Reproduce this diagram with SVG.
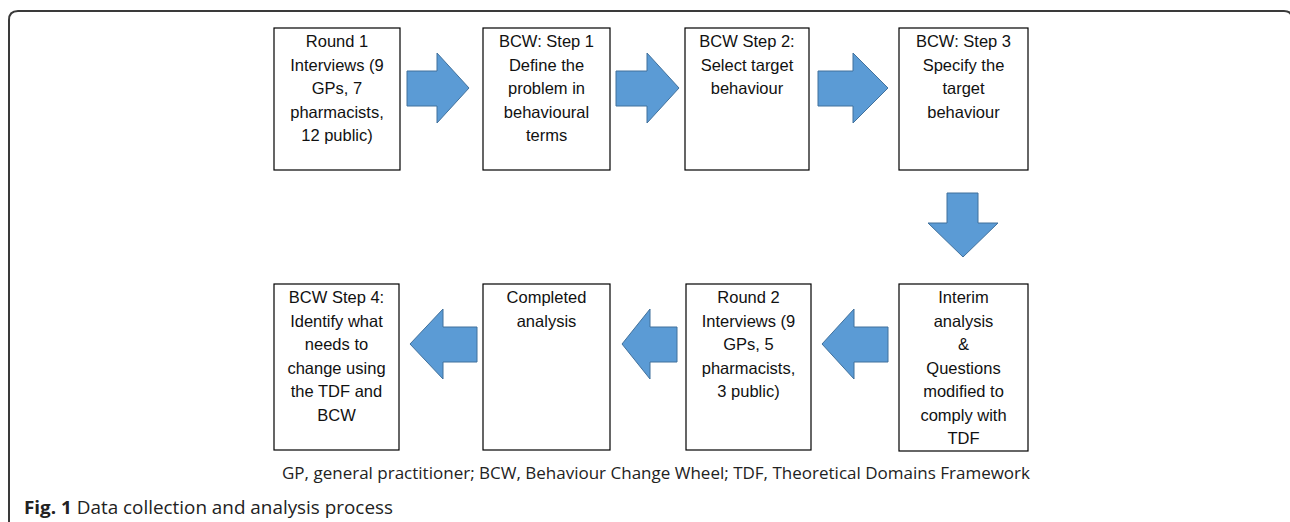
<svg xmlns="http://www.w3.org/2000/svg" width="1290" height="522" viewBox="0 0 1290 522">
<style>
.box{fill:#fff;stroke:#000;stroke-width:1.2}
.arr{fill:#5B9BD5;stroke:#41719C;stroke-width:1}
.t{font-family:"Liberation Sans",Arial,sans-serif;font-size:16.5px;fill:#111;text-anchor:middle}
.cap{font-family:"Open Sans","Liberation Sans",sans-serif;fill:#222}
</style>
<rect width="1290" height="522" fill="#fff"/>
<path d="M9,523 V20 Q9,11 18,11 H1284 Q1292,11 1292,19 V523" fill="none" stroke="#3a3a3a" stroke-width="2"/>
<g id="connectors">
<path class="arr" d="M407,71 H437 V53 L469,88 L437,123 V106 H407 Z"/>
<path class="arr" d="M616,71 H647 V53 L679,88 L647,123 V106 H616 Z"/>
<path class="arr" d="M818,71 H853 V53 L888,88 L853,123 V106 H818 Z"/>
<path class="arr" d="M947,193 H978 V223 H998 L963,257 L928,223 H947 Z"/>
<path class="arr" d="M888,327 H854 V309 L822,344 L854,379 V362 H888 Z"/>
<path class="arr" d="M677,327 H650 V309 L622,344 L650,379 V362 H677 Z"/>
<path class="arr" d="M477,327 H443 V309 L410,344 L443,379 V362 H477 Z"/>
</g>
<g id="n1"><rect class="box" x="274" y="28" width="126" height="142"/>
<text class="t"><tspan x="337" y="47">Round 1</tspan><tspan x="337" y="70.5">Interviews (9</tspan><tspan x="337" y="94">GPs, 7</tspan><tspan x="337" y="117.5">pharmacists,</tspan><tspan x="337" y="141">12 public)</tspan></text></g>
<g id="n2"><rect class="box" x="483" y="28" width="127" height="142"/>
<text class="t"><tspan x="546.5" y="47">BCW: Step 1</tspan><tspan x="546.5" y="70.5">Define the</tspan><tspan x="546.5" y="94">problem in</tspan><tspan x="546.5" y="117.5">behavioural</tspan><tspan x="546.5" y="141">terms</tspan></text></g>
<g id="n3"><rect class="box" x="685" y="28" width="124" height="142"/>
<text class="t"><tspan x="747" y="47">BCW Step 2:</tspan><tspan x="747" y="70.5">Select target</tspan><tspan x="747" y="94">behaviour</tspan></text></g>
<g id="n4"><rect class="box" x="899" y="28" width="129" height="142"/>
<text class="t"><tspan x="963.5" y="47">BCW: Step 3</tspan><tspan x="963.5" y="70.5">Specify the</tspan><tspan x="963.5" y="94">target</tspan><tspan x="963.5" y="117.5">behaviour</tspan></text></g>
<g id="n8"><rect class="box" x="899" y="284" width="129" height="167"/>
<text class="t"><tspan x="963.5" y="303">Interim</tspan><tspan x="963.5" y="326.5">analysis</tspan><tspan x="963.5" y="350">&amp;</tspan><tspan x="963.5" y="373.5">Questions</tspan><tspan x="963.5" y="397">modified to</tspan><tspan x="963.5" y="420.5">comply with</tspan><tspan x="963.5" y="444">TDF</tspan></text></g>
<g id="n7"><rect class="box" x="686" y="284" width="125" height="166"/>
<text class="t"><tspan x="748.5" y="303">Round 2</tspan><tspan x="748.5" y="326.5">Interviews (9</tspan><tspan x="748.5" y="350">GPs, 5</tspan><tspan x="748.5" y="373.5">pharmacists,</tspan><tspan x="748.5" y="397">3 public)</tspan></text></g>
<g id="n6"><rect class="box" x="483" y="284" width="127" height="166"/>
<text class="t"><tspan x="546.5" y="303">Completed</tspan><tspan x="546.5" y="326.5">analysis</tspan></text></g>
<g id="n5"><rect class="box" x="274" y="284" width="125" height="166"/>
<text class="t"><tspan x="336.5" y="303">BCW Step 4:</tspan><tspan x="336.5" y="326.5">Identify what</tspan><tspan x="336.5" y="350">needs to</tspan><tspan x="336.5" y="373.5">change using</tspan><tspan x="336.5" y="397">the TDF and</tspan><tspan x="336.5" y="420.5">BCW</tspan></text></g>
<text class="cap" x="282" y="479" font-size="15.5" textLength="748" lengthAdjust="spacingAndGlyphs">GP, general practitioner; BCW, Behaviour Change Wheel; TDF, Theoretical Domains Framework</text>
<text class="cap" x="24" y="514" font-size="18" textLength="369" lengthAdjust="spacingAndGlyphs"><tspan font-weight="bold">Fig. 1</tspan> Data collection and analysis process</text>
</svg>
